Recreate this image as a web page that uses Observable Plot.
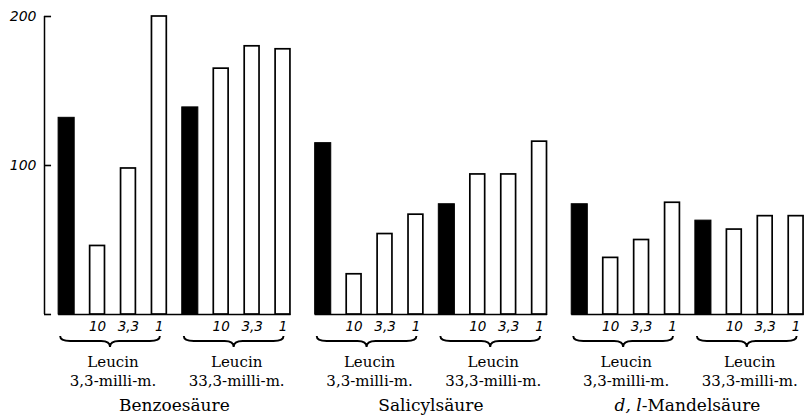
<!DOCTYPE html>
<html><head><meta charset="utf-8">
<script src="https://cdn.jsdelivr.net/npm/d3@7"></script>
<script src="https://cdn.jsdelivr.net/npm/@observablehq/plot@0.6"></script>
<style>body{margin:0;background:#fff}</style>
</head><body><div id="chart"></div>
<script>
// ---- data ----
const acids = ["Benzoesäure", "Salicylsäure", "d, l-Mandelsäure"];
const acidItalicPrefix = ["", "", "d, l"];
const leucinName = ["Leucin", "Leucin"];
const leucinConc = ["3,3-milli-m.", "33,3-milli-m."];
const doses = ["", "10", "3,3", "1"];          // first bar of each set = control (black)
const benzoe  = [132, 46, 98, 200, 139, 165, 180, 178];
const salicyl = [115, 27, 54, 67, 74, 94, 94, 116];
const mandel  = [74, 38, 50, 75, 63, 57, 66, 66];
const yTicks = [100, 200];

// ---- layout helpers ----
const G = 8.3;        // group pitch in bar units
const hw = 0.26;      // bar half width in bar units
const xmin = -0.7166, xmax = 24.0;
const series = [benzoe, salicyl, mandel];

const bars = acids.flatMap((a, g) => series[g].map((v, i) => ({
  acid: a, g, i, dose: doses[i % 4], control: i % 4 === 0, value: v, pos: g * G + i
})));
const subs = acids.flatMap((a, g) => [0, 1].map(s => ({
  g, s, name: leucinName[s], conc: leucinConc[s],
  start: g * G + s * 4, end: g * G + s * 4 + 3, center: g * G + s * 4 + 1.5
})));
const groups = acids.map((a, g) => ({a, g, prefix: acidItalicPrefix[g], center: g * G + 3.5}));

const braces = (index, scales) => {
  const gEl = d3.create("svg:g");
  const y0 = scales.y(0);
  for (const d of subs) {
    const a = scales.x(d.start) - 6, b = scales.x(d.end) + 1, m = (a + b) / 2;
    const t = y0 + 22, f = y0 + 27, p = y0 + 33;
    const path = `M${a},${t} Q${a},${f} ${a+10},${f} L${m-9},${f} Q${m},${f} ${m},${p} Q${m},${f} ${m+9},${f} L${b-10},${f} Q${b},${f} ${b},${t}`;
    gEl.append("path").attr("d", path).attr("fill", "none").attr("stroke", "black").attr("stroke-width", 1.9);
  }
  return gEl.node();
};

const groupLabels = (index, scales) => {
  const gEl = d3.create("svg:g")
    .attr("font-family", "DejaVu Serif").attr("font-size", 17).attr("text-anchor", "middle");
  const y0 = scales.y(0);
  for (const d of groups) {
    const t = gEl.append("text").attr("x", scales.x(d.center)).attr("y", y0 + 97);
    if (d.prefix) {
      t.append("tspan").attr("font-style", "italic").text(d.prefix);
      t.append("tspan").text(d.a.slice(d.prefix.length));
    } else t.text(d.a);
  }
  return gEl.node();
};

const chart = Plot.plot({
  width: 808, height: 419,
  marginLeft: 44, marginRight: 0, marginTop: 16, marginBottom: 105,
  x: {domain: [xmin, xmax], axis: null},
  y: {domain: [0, 200], axis: null},
  marks: [
    Plot.ruleX([xmin], {y1: 0, y2: 200, stroke: "black", strokeWidth: 1.5}),
    Plot.ruleY([0, 100, 200], {x1: xmin, x2: xmin + 7 / 30.7, y: d => d, stroke: "black", strokeWidth: 1.6}),
    Plot.text(yTicks, {x: xmin, y: d => d, text: d => String(d), dx: -8, textAnchor: "end",
      fontStyle: "italic", fontFamily: "DejaVu Sans", fontSize: 14}),
    Plot.ruleY(groups, {x1: d => d.g * G - hw, x2: d => d.g * G + 7 + hw, y: 0, stroke: "black", strokeWidth: 1.6}),
    Plot.rectY(bars.filter(d => d.control), {x1: d => d.pos - hw, x2: d => d.pos + hw, y1: 0, y2: "value",
      fill: "black", stroke: "black", strokeWidth: 1}),
    Plot.rectY(bars.filter(d => !d.control), {x1: d => d.pos - hw + 0.02, x2: d => d.pos + hw - 0.02, y1: 0, y2: "value",
      fill: "white", stroke: "black", strokeWidth: 1.7}),
    Plot.text(bars.filter(d => d.dose), {x: "pos", y: 0, text: "dose", dy: 12,
      fontStyle: "italic", fontFamily: "DejaVu Sans", fontSize: 13.5}),
    braces,
    Plot.text(subs, {x: "center", y: 0, text: "name", dy: 48, fontFamily: "DejaVu Serif", fontSize: 15}),
    Plot.text(subs, {x: "center", y: 0, text: "conc", dy: 67, fontFamily: "DejaVu Serif", fontSize: 15}),
    groupLabels
  ]
});
document.getElementById("chart").appendChild(chart);
</script>
</body></html>
